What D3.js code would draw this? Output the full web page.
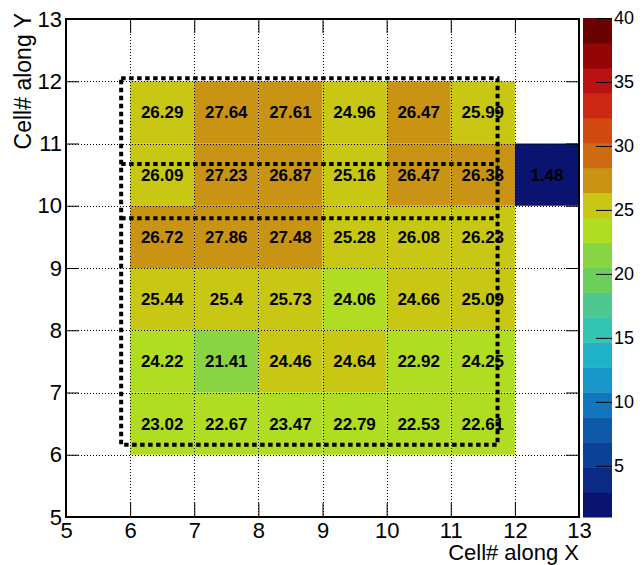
<!DOCTYPE html>
<meta charset="utf-8">
<script src="https://d3js.org/d3.v7.min.js"></script>
<style>
  body { margin: 0; background: #fff; }
  text { font-family: "Liberation Sans", Arial, Helvetica, sans-serif; }
</style>
<div id="chart"></div>

<script>

    // cell columns (lower edge) and rows (lower edge), top row first
    const colsX = [6, 7, 8, 9, 10, 11];
    const rowsY = [11, 10, 9, 8, 7, 6];
    const cellValues = [
        [26.29, 27.64, 27.61, 24.96, 26.47, 25.99],
        [26.09, 27.23, 26.87, 25.16, 26.47, 26.38],
        [26.72, 27.86, 27.48, 25.28, 26.08, 26.23],
        [25.44, 25.4, 25.73, 24.06, 24.66, 25.09],
        [24.22, 21.41, 24.46, 24.64, 22.92, 24.25],
        [23.02, 22.67, 23.47, 22.79, 22.53, 22.61]
    ];
    const extraCell = {x: 12, y: 10, v: 1.48};

    const xTicks = [5, 6, 7, 8, 9, 10, 11, 12, 13];
    const yTicks = [5, 6, 7, 8, 9, 10, 11, 12, 13];
    const zTicks = [5, 10, 15, 20, 25, 30, 35, 40];
    const zRange = [1, 40];

    // dotted selection boxes, data units: [x0, x1, y0, y1]
    const outerBox = [5.86, 11.73, 6.16, 12.05];
    const splitLinesY = [10.67, 9.8];

    const palette = [
        "#0a1470", "#0b2a86", "#0c4296", "#0e5aa8", "#1276be",
        "#1898c8", "#20b2c6", "#34c4b4", "#4ec890", "#6ccf5c",
        "#88d443", "#b0dc22", "#c8c814", "#c99414", "#d06a12",
        "#d04a12", "#cc2814", "#b81212", "#940606", "#6a0202"
    ];

    const W = 644, H = 565;
    const frame = {left: 66, right: 579, top: 19, bottom: 517};

    const svg = d3.select("#chart")
        .append("svg")
        .attr("width", W)
        .attr("height", H);

    const x = d3.scaleLinear().domain([5, 13]).range([frame.left, frame.right]);
    const y = d3.scaleLinear().domain([5, 13]).range([frame.bottom, frame.top]);
    const color = d3.scaleQuantize().domain(zRange).range(palette);

    const cells = [];
    rowsY.forEach((ry, i) => {
        colsX.forEach((cx, j) => {
            cells.push({x: cx, y: ry, v: cellValues[i][j]});
        });
    });
    cells.push(extraCell);

    // cells
    svg.append("g")
        .selectAll("rect")
        .data(cells)
        .join("rect")
        .attr("x", d => x(d.x))
        .attr("y", d => y(d.y + 1))
        .attr("width", d => x(d.x + 1) - x(d.x))
        .attr("height", d => y(d.y) - y(d.y + 1))
        .attr("fill", d => color(d.v));

    // grid
    const grid = svg.append("g")
        .attr("stroke", "#000")
        .attr("stroke-width", 1)
        .attr("stroke-dasharray", "1 2");
    grid.selectAll(".gx")
        .data(xTicks.slice(1, -1))
        .join("line")
        .attr("x1", d => Math.round(x(d)) + 0.5)
        .attr("x2", d => Math.round(x(d)) + 0.5)
        .attr("y1", frame.top)
        .attr("y2", frame.bottom);
    grid.selectAll(".gy")
        .data(yTicks.slice(1, -1))
        .join("line")
        .attr("y1", d => Math.round(y(d)) + 0.5)
        .attr("y2", d => Math.round(y(d)) + 0.5)
        .attr("x1", frame.left)
        .attr("x2", frame.right);

    // cell labels
    svg.append("g")
        .selectAll("text")
        .data(cells)
        .join("text")
        .attr("x", d => x(d.x + 0.5))
        .attr("y", d => y(d.y + 0.5))
        .attr("dy", "0.36em")
        .attr("text-anchor", "middle")
        .style("font-size", "17px")
        .style("font-weight", "bold")
        .text(d => String(d.v));

    // dotted boxes
    const boxG = svg.append("g")
        .attr("fill", "none")
        .attr("stroke", "#000")
        .attr("stroke-width", 4)
        .attr("stroke-dasharray", "4.5 3.5");
    boxG.append("rect")
        .attr("x", x(outerBox[0]))
        .attr("y", y(outerBox[3]))
        .attr("width", x(outerBox[1]) - x(outerBox[0]))
        .attr("height", y(outerBox[2]) - y(outerBox[3]));
    boxG.selectAll("line")
        .data(splitLinesY)
        .join("line")
        .attr("x1", x(outerBox[0]))
        .attr("x2", x(outerBox[1]))
        .attr("y1", d => y(d))
        .attr("y2", d => y(d));

    // axes
    const tickFont = g => g.selectAll("text").style("font-size", "22px").attr("fill", "#000");
    const noDomain = g => g.select(".domain").remove();

    svg.append("g")
        .attr("transform", `translate(0, ${frame.bottom})`)
        .call(d3.axisBottom(x).tickValues(xTicks).tickSizeInner(-14).tickSizeOuter(0).tickPadding(5))
        .call(noDomain)
        .call(tickFont)
        .selectAll("line").attr("stroke", "#000");

    svg.append("g")
        .attr("transform", `translate(0, ${frame.top})`)
        .call(d3.axisTop(x).tickValues(xTicks).tickSizeInner(-14).tickSizeOuter(0).tickFormat(""))
        .call(noDomain);

    svg.append("g")
        .attr("transform", `translate(${frame.left}, 0)`)
        .call(d3.axisLeft(y).tickValues(yTicks).tickSizeInner(-13).tickSizeOuter(0).tickPadding(4))
        .call(noDomain)
        .call(tickFont);

    svg.append("g")
        .attr("transform", `translate(${frame.right}, 0)`)
        .call(d3.axisRight(y).tickValues(yTicks).tickSizeInner(-13).tickSizeOuter(0).tickFormat(""))
        .call(noDomain);

    // frame
    svg.append("rect")
        .attr("x", frame.left)
        .attr("y", frame.top)
        .attr("width", frame.right - frame.left)
        .attr("height", frame.bottom - frame.top)
        .attr("fill", "none")
        .attr("stroke", "#000")
        .attr("stroke-width", 2);

    // axis titles
    svg.append("text")
        .attr("x", frame.right)
        .attr("y", 560)
        .attr("text-anchor", "end")
        .style("font-size", "22px")
        .text("Cell# along X");

    svg.append("text")
        .attr("transform", `translate(31, 13) rotate(-90)`)
        .attr("text-anchor", "end")
        .style("font-size", "23px")
        .text("Cell# along Y");

    // colour bar
    const barX = 583, barW = 29;
    const z = d3.scaleLinear().domain(zRange).range([517, 18]);
    const step = (zRange[1] - zRange[0]) / palette.length;
    svg.append("g")
        .selectAll("rect")
        .data(palette)
        .join("rect")
        .attr("x", barX)
        .attr("y", (d, i) => z(zRange[0] + (i + 1) * step))
        .attr("width", barW)
        .attr("height", (d, i) => z(zRange[0] + i * step) - z(zRange[0] + (i + 1) * step) + 0.5)
        .attr("fill", d => d);

    svg.append("g")
        .attr("transform", `translate(${barX + barW}, 0)`)
        .call(d3.axisRight(z).tickValues(zTicks).tickSizeInner(-16).tickSizeOuter(0).tickPadding(2))
        .call(noDomain)
        .call(g => g.selectAll("text").style("font-size", "18px").attr("fill", "#000"));

</script>
